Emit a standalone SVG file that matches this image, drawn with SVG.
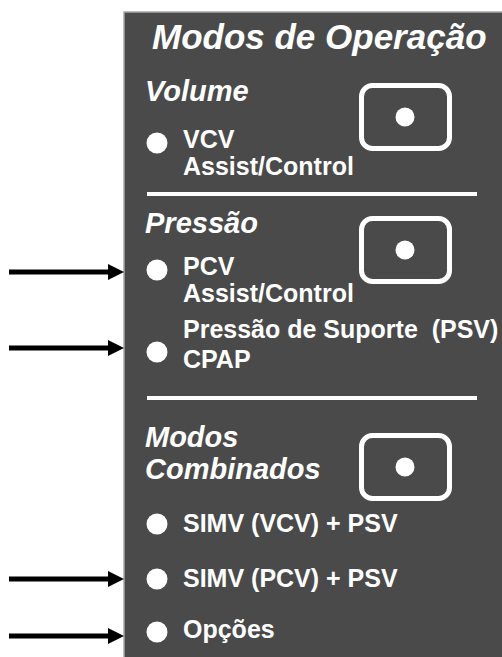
<svg xmlns="http://www.w3.org/2000/svg" width="502" height="657" viewBox="0 0 502 657">
  <defs>
    <marker id="ah" markerUnits="userSpaceOnUse" markerWidth="16" markerHeight="16" refX="2" refY="8" orient="auto">
      <path d="M0,0 L16,8 L0,16 z" fill="#000"/>
    </marker>
  </defs>
  <style>
    .hd { font-family: "Liberation Sans", Arial, sans-serif; font-weight: bold; font-style: italic; fill: #fff; }
    .tx { font-family: "Liberation Sans", Arial, sans-serif; font-weight: bold; font-size: 25px; fill: #fff; }
    .box { fill: none; stroke: #fff; stroke-width: 5; }
    .dot { fill: #fff; }
    .sep { stroke: #fff; stroke-width: 4; }
    .arr { stroke: #000; stroke-width: 5; fill: none; marker-end: url(#ah); }
  </style>
  <rect x="0" y="0" width="502" height="657" fill="#fff"/>
  <g id="panel">
    <rect x="124" y="12" width="380" height="650" fill="#4a4a4a" stroke="#a8a8a8" stroke-width="1.5"/>
    <text class="hd" x="152" y="49" font-size="35">Modos de Operação</text>
  </g>
  <g id="volume">
    <text class="hd" x="145" y="101" font-size="29">Volume</text>
    <rect class="box" x="361.5" y="85.5" width="88" height="63" rx="11"/>
    <circle class="dot" cx="405" cy="117" r="9.5"/>
    <circle class="dot" cx="157" cy="143" r="10.5"/>
    <text class="tx" x="183" y="148">VCV</text>
    <text class="tx" x="183" y="175">Assist/Control</text>
  </g>
  <line class="sep" x1="147" y1="194" x2="477" y2="194"/>
  <g id="pressao">
    <text class="hd" x="145" y="233" font-size="29">Pressão</text>
    <rect class="box" x="361.5" y="218.5" width="88" height="63" rx="11"/>
    <circle class="dot" cx="405" cy="250" r="9.5"/>
    <circle class="dot" cx="157" cy="270" r="10.5"/>
    <text class="tx" x="183" y="275">PCV</text>
    <text class="tx" x="183" y="302">Assist/Control</text>
    <circle class="dot" cx="157" cy="352" r="10.5"/>
    <text class="tx" x="183" y="338" xml:space="preserve">Pressão de Suporte  (PSV)</text>
    <text class="tx" x="183" y="368">CPAP</text>
  </g>
  <line class="sep" x1="147" y1="398" x2="477" y2="398"/>
  <g id="combinados">
    <text class="hd" x="145" y="447" font-size="29">Modos</text>
    <text class="hd" x="145" y="479" font-size="29">Combinados</text>
    <rect class="box" x="361.5" y="435.5" width="88" height="63" rx="11"/>
    <circle class="dot" cx="405" cy="467" r="9.5"/>
    <circle class="dot" cx="157" cy="524" r="10.5"/>
    <text class="tx" x="183" y="532">SIMV (VCV) + PSV</text>
    <circle class="dot" cx="157" cy="579" r="10.5"/>
    <text class="tx" x="183" y="587">SIMV (PCV) + PSV</text>
    <circle class="dot" cx="157" cy="632" r="10.5"/>
    <text class="tx" x="183" y="638">Opções</text>
  </g>
  <g id="connectors">
    <line class="arr" x1="9" y1="272" x2="110" y2="272"/>
    <line class="arr" x1="9" y1="348" x2="110" y2="348"/>
    <line class="arr" x1="9" y1="579" x2="110" y2="579"/>
    <line class="arr" x1="9" y1="636" x2="110" y2="636"/>
  </g>
</svg>
